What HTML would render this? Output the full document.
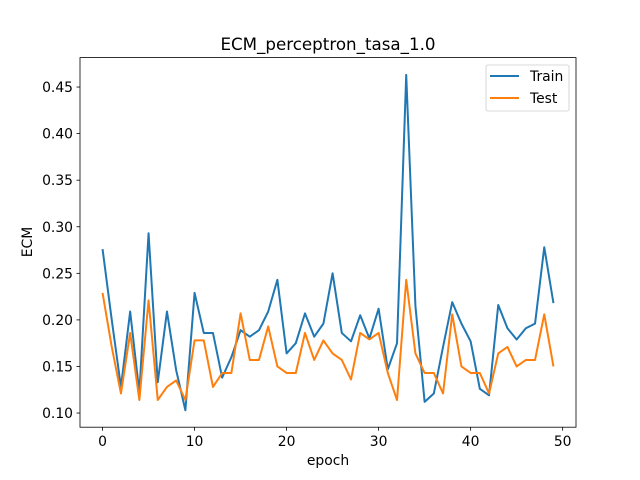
<!DOCTYPE html>
<html><head><meta charset="utf-8"><style>
html,body{margin:0;padding:0;background:#fff;}
svg{display:block;font-family:"DejaVu Sans","Liberation Sans",sans-serif;}
</style></head><body>
<svg id="chart" width="640" height="480" viewBox="0 0 640 480" xmlns="http://www.w3.org/2000/svg">
<rect width="640" height="480" fill="#fff"/>
<text x="328" y="50" font-size="16.7" text-anchor="middle">ECM_perceptron_tasa_1.0</text>
<g id="series"></g>
<rect x="80" y="57.6" width="496" height="369.6" fill="none" stroke="#000" stroke-width="0.8"/>
<g id="ticks"></g>
<text x="328" y="465" font-size="13.9" text-anchor="middle">epoch</text>
<text x="0" y="0" font-size="13.9" text-anchor="middle" transform="translate(32,242) rotate(-90)">ECM</text>
<g>
<rect x="486" y="65" width="83" height="46" rx="2" fill="#fff" fill-opacity="0.8" stroke="#ccc" stroke-width="0.8"/>
<line x1="490" y1="76" x2="519" y2="76" stroke="#1f77b4" stroke-width="2"/>
<text x="530" y="81" font-size="13.9">Train</text>
<line x1="490" y1="98" x2="519" y2="98" stroke="#ff7f0e" stroke-width="2"/>
<text x="530" y="103" font-size="13.9">Test</text>
</g>
</svg>
<script>
const trainValues=[0.276,0.20,0.128,0.209,0.122,0.293,0.133,0.209,0.146,0.103,0.229,0.186,0.186,0.138,0.160,0.189,0.182,0.189,0.209,0.243,0.164,0.175,0.207,0.182,0.196,0.250,0.186,0.177,0.205,0.180,0.212,0.147,0.175,0.463,0.215,0.112,0.121,0.171,0.219,0.196,0.177,0.126,0.119,0.216,0.191,0.179,0.191,0.196,0.278,0.218];
const testValues=[0.229,0.171,0.121,0.186,0.114,0.221,0.114,0.128,0.135,0.114,0.178,0.178,0.128,0.143,0.143,0.207,0.157,0.157,0.193,0.150,0.143,0.143,0.186,0.157,0.178,0.164,0.157,0.136,0.186,0.179,0.186,0.143,0.114,0.243,0.164,0.143,0.143,0.121,0.206,0.150,0.143,0.143,0.121,0.164,0.171,0.150,0.157,0.157,0.206,0.150];
const xTicks=[0,10,20,30,40,50];
const yTicks=[0.10,0.15,0.20,0.25,0.30,0.35,0.40,0.45];
const NS="http://www.w3.org/2000/svg";
const L=80,R=576,T=57.6,B=427.2;
const xMin=-2.45,xMax=51.45,yMin=0.0848,yMax=0.4816;
function xs(v){return L+(v-xMin)/(xMax-xMin)*(R-L);}
function ys(v){return B-(v-yMin)/(yMax-yMin)*(B-T);}
const ticks=document.getElementById('ticks');
xTicks.forEach(t=>{
 const l=document.createElementNS(NS,'line');
 l.setAttribute('x1',xs(t));l.setAttribute('x2',xs(t));l.setAttribute('y1',B);l.setAttribute('y2',B+3.5);
 l.setAttribute('stroke','#000');l.setAttribute('stroke-width','0.8');
 
 
 ticks.appendChild(l);
 const tx=document.createElementNS(NS,'text');
 tx.setAttribute('x',xs(t));tx.setAttribute('y',B+19);tx.setAttribute('font-size','13.9');tx.setAttribute('text-anchor','middle');
 tx.textContent=String(t);
 
 
 ticks.appendChild(tx);
});
yTicks.forEach(t=>{
 const l=document.createElementNS(NS,'line');
 l.setAttribute('x1',L-3.5);l.setAttribute('x2',L);l.setAttribute('y1',ys(t));l.setAttribute('y2',ys(t));
 l.setAttribute('stroke','#000');l.setAttribute('stroke-width','0.8');
 
 
 ticks.appendChild(l);
 const tx=document.createElementNS(NS,'text');
 tx.setAttribute('x',L-7);tx.setAttribute('y',ys(t)+5);tx.setAttribute('font-size','13.9');tx.setAttribute('text-anchor','end');
 tx.textContent=t.toFixed(2);
 
 
 ticks.appendChild(tx);
});
const series=document.getElementById('series');
function addLine(vals,color,name){
 const p=document.createElementNS(NS,'polyline');
 p.setAttribute('points',vals.map((v,i)=>xs(i).toFixed(2)+','+ys(v).toFixed(2)).join(' '));
 p.setAttribute('fill','none');p.setAttribute('stroke',color);p.setAttribute('stroke-width','2');
 p.setAttribute('stroke-linejoin','round');
 
 
 series.appendChild(p);
}
addLine(trainValues,'#1f77b4','train-line');
addLine(testValues,'#ff7f0e','test-line');
</script>
</body></html>
